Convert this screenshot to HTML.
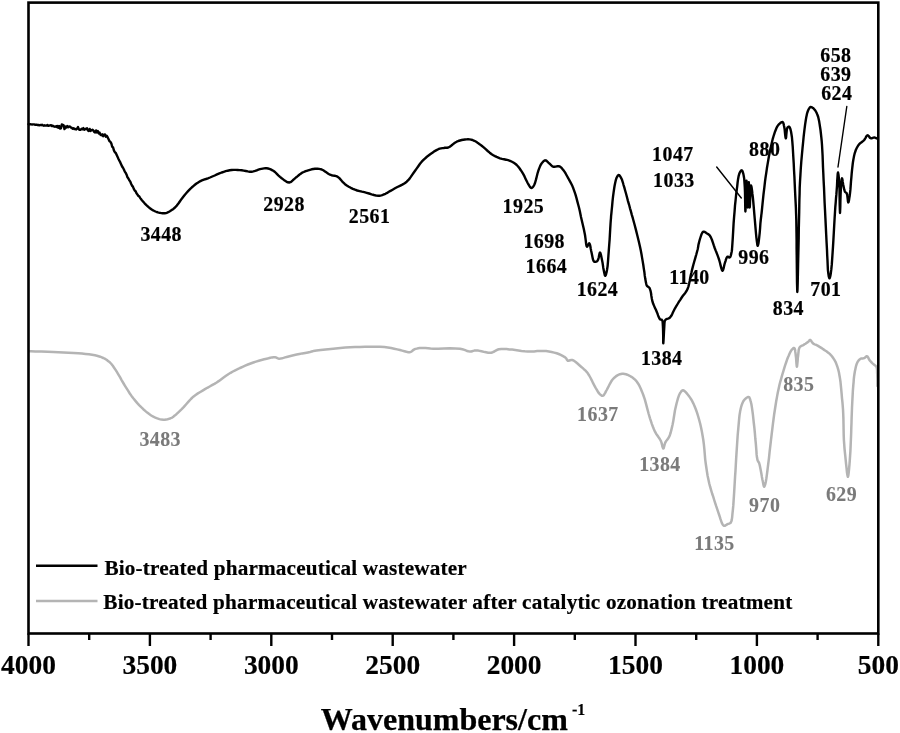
<!DOCTYPE html>
<html><head><meta charset="utf-8"><title>FTIR spectra</title>
<style>
html,body{margin:0;padding:0;background:#fff;}
body{width:900px;height:733px;overflow:hidden;}
svg{display:block;font-family:"Liberation Serif","Times New Roman",serif;font-weight:bold;}
</style></head><body>
<svg width="900" height="733" viewBox="0 0 900 733">
<rect width="900" height="733" fill="#fff"/>
<polyline points="29.2,351.3 30.9,351.3 35.3,351.5 41.3,351.6 47.7,351.8 53.3,352.0 58.4,352.2 63.5,352.4 68.6,352.7 73.6,353.0 78.3,353.3 82.0,353.6 85.5,353.9 88.9,354.3 92.1,354.8 95.0,355.3 96.9,355.7 98.6,356.2 100.2,356.7 101.8,357.3 103.3,358.0 104.7,358.7 106.1,359.5 107.4,360.4 108.7,361.4 110.0,362.5 111.4,364.0 112.8,365.8 114.1,367.7 115.4,369.6 116.7,371.7 118.3,374.3 120.0,377.2 121.6,380.1 123.3,383.0 125.0,385.8 126.6,388.4 128.2,390.9 129.8,393.5 131.5,395.9 133.3,398.3 135.2,400.6 137.1,402.9 139.1,405.1 141.2,407.2 143.3,409.2 145.2,410.9 147.2,412.6 149.2,414.1 151.2,415.5 153.3,416.7 155.3,417.6 157.3,418.4 159.4,419.1 161.4,419.6 163.3,419.8 164.8,419.8 166.2,419.6 167.6,419.3 168.8,418.9 170.0,418.5 170.7,418.2 171.4,417.9 172.0,417.6 172.6,417.2 173.3,416.7 174.7,415.6 176.4,414.2 178.1,412.6 179.9,410.9 181.7,409.2 183.9,406.9 186.2,404.2 188.5,401.6 190.9,399.0 193.3,396.7 195.6,395.0 197.9,393.4 200.3,392.0 202.6,390.6 205.0,389.2 207.3,387.8 209.7,386.5 212.0,385.2 214.4,383.9 216.7,382.5 219.0,380.9 221.3,379.2 223.6,377.5 226.0,375.8 228.3,374.2 230.6,372.8 232.9,371.5 235.2,370.3 237.6,369.2 240.0,368.0 242.6,366.8 245.2,365.6 247.9,364.5 250.6,363.5 253.3,362.5 256.0,361.6 258.8,360.8 261.5,360.0 264.2,359.3 266.7,358.7 268.5,358.3 270.3,357.8 272.0,357.4 273.6,357.2 275.0,357.2 275.9,357.4 276.7,357.8 277.5,358.2 278.3,358.5 279.2,358.7 280.5,358.6 282.0,358.3 283.5,357.9 285.1,357.4 286.7,357.0 288.6,356.5 290.5,356.0 292.5,355.5 294.6,355.0 296.7,354.5 299.4,354.0 302.3,353.4 305.2,352.9 307.9,352.4 310.0,352.0 310.8,351.8 311.3,351.6 311.9,351.5 312.5,351.3 313.3,351.1 316.5,350.6 320.7,350.0 325.6,349.4 330.8,348.9 335.6,348.4 340.4,348.0 345.3,347.6 350.2,347.3 355.1,347.1 360.0,346.9 365.0,346.8 370.0,346.7 375.0,346.7 379.9,346.8 384.4,347.1 387.8,347.5 391.1,348.1 394.2,348.7 397.2,349.4 400.0,350.0 402.2,350.6 404.4,351.2 406.4,351.8 408.3,352.2 410.0,352.2 411.0,351.8 411.9,351.2 412.7,350.5 413.5,349.8 414.4,349.3 415.6,348.9 416.9,348.6 418.2,348.3 419.6,348.1 421.1,348.0 423.2,348.0 425.5,348.1 427.9,348.3 430.5,348.6 433.3,348.7 438.2,348.7 443.9,348.5 449.8,348.3 455.3,348.4 460.0,348.7 462.4,349.2 464.5,349.9 466.4,350.7 468.3,351.3 470.0,351.6 471.2,351.5 472.2,351.2 473.2,350.9 474.3,350.6 475.6,350.4 478.3,350.6 481.5,351.3 484.9,352.1 488.2,352.7 491.1,352.7 492.8,352.2 494.3,351.5 495.7,350.6 497.2,349.8 498.9,349.3 501.3,349.0 503.9,349.0 506.6,349.1 509.4,349.4 512.2,349.6 515.2,349.9 518.4,350.4 521.5,350.9 524.7,351.3 527.8,351.6 530.9,351.6 534.1,351.4 537.2,351.1 540.3,350.9 543.3,350.9 546.1,351.1 548.9,351.5 551.6,352.0 554.2,352.6 556.7,353.3 558.7,354.0 560.7,354.9 562.6,355.9 564.3,356.8 565.6,357.8 566.2,358.4 566.6,359.1 566.9,359.8 567.3,360.3 567.8,360.7 568.5,360.8 569.4,360.5 570.3,360.2 571.2,360.0 572.2,360.0 573.9,360.7 575.7,362.0 577.5,363.5 579.4,365.2 581.1,366.7 582.5,367.9 583.9,369.2 585.3,370.4 586.6,371.8 587.8,373.3 589.2,375.5 590.6,378.0 591.9,380.6 593.1,383.2 594.4,385.6 595.5,387.6 596.7,389.6 597.8,391.5 598.9,393.2 600.0,394.4 600.6,394.9 601.2,395.3 601.8,395.7 602.3,395.8 602.9,395.8 603.7,395.3 604.4,394.2 605.2,392.9 605.9,391.4 606.7,390.0 607.7,388.1 608.8,386.0 609.9,383.8 611.0,381.8 612.2,380.0 613.2,378.8 614.3,377.7 615.5,376.7 616.6,375.8 617.8,375.1 618.9,374.6 619.9,374.2 621.0,374.0 622.2,373.8 623.3,373.8 624.6,374.0 626.0,374.3 627.3,374.7 628.7,375.3 630.0,376.0 631.4,376.8 632.8,377.8 634.2,378.9 635.5,380.1 636.7,381.5 638.2,383.7 639.6,386.2 640.9,389.0 642.1,391.9 643.3,395.0 644.8,399.3 646.1,404.1 647.4,409.1 648.7,414.0 650.0,418.3 651.0,421.3 651.9,424.1 652.9,426.8 653.9,429.3 655.0,431.7 656.1,433.7 657.4,435.5 658.6,437.3 659.8,439.0 660.8,440.8 661.5,442.6 662.0,444.6 662.4,446.5 662.9,447.9 663.3,448.5 663.7,448.1 664.0,446.9 664.4,445.4 664.8,443.9 665.3,442.5 666.0,441.3 666.8,440.3 667.6,439.2 668.5,438.0 669.2,436.7 670.0,434.7 670.7,432.5 671.3,430.1 671.9,427.6 672.5,425.0 673.2,421.6 673.8,417.8 674.4,414.0 675.0,410.2 675.8,406.7 676.5,403.7 677.3,400.7 678.1,397.8 679.0,395.3 680.0,393.3 680.6,392.4 681.1,391.6 681.7,390.9 682.3,390.5 683.0,390.3 683.8,390.5 684.7,391.2 685.7,392.1 686.6,393.1 687.5,394.2 688.7,395.7 689.9,397.4 691.1,399.2 692.2,401.2 693.3,403.3 694.6,406.2 695.9,409.5 697.1,412.9 698.2,416.5 699.2,420.0 700.2,423.8 701.1,427.8 701.9,431.8 702.6,435.8 703.3,440.0 703.9,444.7 704.4,449.6 704.8,454.5 705.2,459.3 705.8,464.0 706.4,468.0 707.0,472.0 707.6,475.8 708.4,479.6 709.2,483.3 710.1,486.7 711.1,490.1 712.1,493.5 713.2,496.7 714.2,500.0 715.2,503.1 716.2,506.2 717.3,509.3 718.3,512.3 719.2,515.0 719.9,517.1 720.5,519.2 721.2,521.2 721.8,522.9 722.5,524.2 722.8,524.7 723.1,525.1 723.5,525.4 723.8,525.7 724.2,525.8 724.8,525.7 725.4,525.5 726.1,525.0 726.8,524.6 727.5,524.2 728.2,523.9 728.9,523.7 729.6,523.4 730.3,523.0 730.8,522.5 731.4,521.2 731.8,519.6 732.1,517.6 732.3,515.5 732.5,513.3 732.9,509.6 733.3,505.4 733.6,500.9 733.9,496.3 734.2,491.7 734.5,486.6 734.8,481.4 735.1,476.1 735.5,470.7 735.8,465.0 736.2,457.9 736.7,450.2 737.2,442.5 737.7,435.0 738.3,428.3 738.7,423.8 739.1,419.4 739.5,415.4 740.1,411.6 740.8,408.3 741.3,406.3 741.9,404.4 742.6,402.8 743.3,401.3 744.2,400.0 745.0,399.1 746.0,398.2 747.0,397.5 747.9,397.0 748.7,397.0 749.3,397.4 749.7,398.2 750.1,399.2 750.4,400.4 750.8,401.7 751.4,404.3 751.9,407.4 752.4,410.9 752.9,414.6 753.3,418.3 753.8,423.0 754.4,428.2 754.9,433.4 755.3,438.5 755.8,443.3 756.1,447.1 756.4,450.9 756.6,454.4 757.0,457.6 757.5,460.0 757.8,460.8 758.1,461.4 758.5,461.9 758.9,462.5 759.2,463.3 759.9,465.9 760.6,469.4 761.3,473.2 761.9,476.9 762.5,480.0 762.9,481.7 763.2,483.5 763.5,485.1 763.9,486.3 764.2,486.7 764.5,486.4 764.8,485.6 765.2,484.4 765.5,483.1 765.8,481.7 766.3,478.8 766.8,475.4 767.3,471.5 767.8,467.4 768.3,463.3 769.0,457.8 769.6,451.9 770.3,445.8 771.0,439.8 771.7,434.0 772.3,429.1 772.9,424.2 773.5,419.5 774.1,414.8 774.8,410.2 775.5,405.7 776.2,401.3 777.0,396.9 777.8,392.6 778.7,388.4 779.5,384.8 780.4,381.3 781.4,377.9 782.3,374.6 783.3,371.3 784.2,368.3 785.1,365.4 786.1,362.5 787.0,359.8 788.0,357.3 788.8,355.5 789.5,353.7 790.3,352.1 791.1,350.7 791.9,349.6 792.4,349.1 792.9,348.6 793.3,348.2 793.8,348.0 794.2,348.0 794.7,348.7 795.1,350.1 795.3,351.9 795.6,353.9 795.8,355.8 796.1,358.2 796.3,361.1 796.5,363.8 796.7,365.9 796.9,366.7 797.1,365.9 797.3,363.8 797.6,361.1 797.8,358.2 798.1,355.8 798.3,353.9 798.5,352.0 798.7,350.1 799.1,348.5 799.7,347.2 800.3,346.5 801.1,346.1 801.9,345.7 802.8,345.3 803.6,344.9 804.5,344.3 805.5,343.7 806.5,343.0 807.4,342.4 808.2,341.8 808.7,341.3 809.1,340.8 809.4,340.4 809.8,340.0 810.2,339.9 810.7,340.2 811.2,340.9 811.7,341.7 812.3,342.6 812.9,343.3 813.7,343.9 814.6,344.3 815.6,344.7 816.6,345.2 817.6,345.7 818.8,346.4 820.0,347.1 821.3,347.9 822.6,348.8 823.8,349.6 825.1,350.5 826.4,351.3 827.6,352.2 828.9,353.2 830.0,354.2 831.1,355.3 832.1,356.5 833.0,357.8 833.9,359.1 834.7,360.4 835.5,361.8 836.1,363.3 836.7,364.9 837.3,366.5 837.8,368.2 838.4,370.2 838.9,372.3 839.3,374.5 839.7,376.8 840.1,379.1 840.5,382.0 840.8,385.1 841.1,388.2 841.4,391.4 841.7,394.7 842.0,398.3 842.4,401.9 842.7,405.5 843.0,409.3 843.2,413.3 843.4,418.4 843.5,423.8 843.6,429.4 843.7,434.8 843.9,440.0 844.2,444.2 844.5,448.3 844.9,452.3 845.3,456.2 845.7,460.1 846.1,464.1 846.6,468.5 847.0,472.6 847.5,475.6 847.9,476.8 848.3,475.6 848.7,472.7 849.1,468.6 849.5,464.1 849.8,460.1 850.1,455.7 850.4,451.1 850.6,446.4 850.8,441.7 851.0,437.0 851.2,432.3 851.3,427.6 851.5,422.9 851.6,418.2 851.8,413.3 852.0,407.7 852.3,401.8 852.6,395.9 852.9,390.3 853.3,385.3 853.6,382.1 853.8,379.2 854.1,376.4 854.5,373.8 854.9,371.3 855.3,369.4 855.7,367.6 856.1,365.8 856.6,364.2 857.2,362.8 857.7,361.8 858.3,360.9 858.9,360.1 859.6,359.4 860.3,358.9 861.0,358.6 861.8,358.5 862.7,358.4 863.5,358.3 864.2,358.1 864.8,357.7 865.4,357.2 866.0,356.7 866.5,356.3 867.0,356.2 867.6,356.6 868.1,357.4 868.6,358.4 869.1,359.5 869.7,360.4 870.4,361.2 871.2,362.0 872.0,362.8 872.8,363.6 873.6,364.3 874.2,364.8 874.8,365.2 875.4,365.6 876.0,366.1 876.4,366.7 876.8,367.8 877.0,369.2 877.1,370.7 877.1,372.3 877.2,374.0 877.3,376.6 877.4,379.7 877.4,382.8 877.4,385.1 877.4,386.0" fill="none" stroke="#b4b4b4" stroke-width="2.5" stroke-linejoin="round" stroke-linecap="round"/>
<polyline points="28.5,124.1 29.4,124.3 30.3,124.3 31.2,124.4 32.1,124.5 33.0,124.4 33.9,124.4 34.8,124.7 35.7,124.6 36.6,124.7 37.5,125.0 38.4,124.9 39.3,125.4 40.2,125.0 41.1,125.2 42.0,124.7 42.9,125.3 43.8,125.7 44.7,125.3 45.6,125.6 46.5,125.6 47.4,124.9 48.3,125.8 49.2,125.6 50.1,125.3 51.0,125.1 51.9,126.1 52.8,125.7 53.7,126.3 54.6,126.7 55.5,126.4 56.4,126.9 57.3,125.9 58.2,127.7 59.1,126.0 60.0,128.6 60.9,128.4 61.8,124.5 62.7,124.8 63.6,125.3 64.5,129.1 65.4,126.6 66.3,127.6 67.2,126.1 68.1,127.2 69.0,126.6 69.9,126.5 70.8,127.6 71.7,127.7 72.6,128.8 73.5,128.2 74.4,129.1 75.3,129.0 76.2,129.5 77.1,128.6 78.0,127.1 78.9,129.4 79.8,129.9 80.7,129.8 81.6,128.8 82.5,129.3 83.4,128.1 84.3,129.8 85.2,129.3 86.1,128.7 87.0,128.3 87.9,130.5 88.8,131.0 89.7,128.9 90.6,130.9 91.5,130.2 92.4,129.7 93.3,130.4 94.2,131.9 95.1,132.4 96.0,130.4 96.9,132.4 97.8,131.1 98.7,133.4 99.6,132.6 100.5,134.7 101.4,135.3 102.3,134.3 103.2,136.2 104.1,134.6 105.0,134.5 105.9,136.7 106.8,135.8 107.7,137.4 108.6,139.3 109.5,141.3 110.4,141.8 111.3,143.3 112.2,146.8 113.1,147.5 114.0,150.6 114.9,152.3 115.8,153.0 116.7,155.0 117.6,156.9 118.5,159.0 119.4,160.7 120.3,162.4 121.2,164.4 122.1,166.5 123.0,167.8 123.9,169.5 124.8,171.6 125.7,172.9 126.6,174.7 127.5,177.3 128.4,178.5 129.3,180.3 130.2,181.4 131.1,183.7 132.0,185.6 132.9,186.6 133.8,188.9 134.7,190.5 135.6,191.2 136.5,193.3 137.4,194.4 138.3,195.9 139.2,196.3 139.2,196.3 139.3,196.6 139.7,197.2 140.3,198.1 141.0,199.1 141.7,200.0 143.0,201.5 144.6,203.3 146.4,205.1 148.3,206.9 150.0,208.3 151.3,209.3 152.7,210.1 154.0,210.8 155.4,211.5 156.7,212.0 157.9,212.4 159.1,212.7 160.2,212.9 161.4,213.1 162.5,213.2 163.4,213.2 164.2,213.2 165.0,213.2 165.8,213.1 166.7,212.8 168.2,212.2 169.9,211.3 171.7,210.1 173.4,208.9 175.0,207.5 176.8,205.6 178.4,203.5 180.0,201.2 181.6,198.9 183.3,196.7 184.9,194.7 186.6,192.8 188.3,190.9 190.0,189.2 191.7,187.5 193.3,186.1 194.9,184.8 196.5,183.5 198.2,182.4 200.0,181.3 201.9,180.4 203.9,179.6 205.9,179.0 207.9,178.3 210.0,177.5 212.3,176.5 214.7,175.5 217.0,174.4 219.4,173.4 221.7,172.5 223.7,171.8 225.7,171.2 227.7,170.7 229.7,170.3 231.7,170.0 233.7,169.9 235.7,169.9 237.7,170.0 239.7,170.1 241.7,170.3 243.7,170.6 245.8,171.0 247.8,171.4 249.8,171.7 251.7,171.7 253.4,171.4 255.1,170.9 256.8,170.3 258.4,169.7 260.0,169.2 261.4,168.9 262.7,168.6 264.1,168.4 265.4,168.2 266.7,168.3 268.0,168.5 269.4,168.9 270.7,169.4 272.0,170.1 273.3,170.8 275.0,172.0 276.6,173.6 278.3,175.3 280.0,176.9 281.7,178.3 283.2,179.4 284.7,180.6 286.3,181.6 287.8,182.3 289.2,182.5 290.4,182.2 291.6,181.4 292.7,180.4 293.8,179.3 295.0,178.3 296.3,177.2 297.7,176.1 299.0,175.0 300.4,173.9 301.7,173.0 302.7,172.4 303.7,172.0 304.6,171.6 305.6,171.2 306.7,170.8 308.2,170.3 309.9,169.8 311.6,169.3 313.4,169.0 315.0,168.8 316.4,168.7 317.7,168.8 319.0,168.9 320.4,169.1 321.7,169.5 323.3,170.3 325.0,171.4 326.7,172.6 328.3,173.8 330.0,174.7 331.5,175.2 333.0,175.5 334.6,175.7 336.1,176.1 337.5,176.7 339.1,177.9 340.5,179.4 341.9,181.1 343.4,182.7 345.0,184.2 346.8,185.5 348.8,186.7 350.8,187.8 352.9,188.8 355.0,189.7 357.2,190.5 359.6,191.1 362.0,191.7 364.3,192.2 366.7,192.8 369.1,193.5 371.6,194.3 374.0,195.0 376.3,195.6 378.3,195.8 379.4,195.8 380.4,195.6 381.3,195.4 382.2,195.1 383.3,194.7 385.4,193.8 387.7,192.6 390.1,191.1 392.6,189.7 395.0,188.3 397.4,187.0 399.9,185.8 402.3,184.6 404.7,183.2 406.7,181.7 408.2,180.2 409.6,178.6 410.8,176.9 412.0,175.1 413.3,173.3 414.9,171.0 416.6,168.6 418.3,166.2 420.0,163.8 421.7,161.7 423.2,160.2 424.6,158.8 426.1,157.5 427.6,156.2 429.2,155.0 430.9,153.7 432.8,152.4 434.7,151.1 436.5,150.1 438.3,149.2 439.7,148.7 441.1,148.4 442.5,148.1 443.8,148.0 445.0,147.8 445.7,147.7 446.3,147.7 447.0,147.8 447.6,147.7 448.3,147.5 449.8,146.7 451.4,145.5 453.1,144.1 454.9,142.7 456.7,141.7 458.3,141.0 460.0,140.5 461.7,140.0 463.3,139.7 465.0,139.5 466.5,139.4 468.0,139.3 469.5,139.4 471.0,139.6 472.5,140.0 474.3,140.8 476.2,141.8 478.0,143.1 479.9,144.4 481.7,145.8 483.7,147.4 485.7,149.2 487.7,151.0 489.7,152.7 491.7,154.2 493.3,155.2 495.0,156.1 496.6,156.9 498.3,157.6 500.0,158.3 502.0,158.9 504.0,159.3 506.1,159.7 508.1,160.2 510.0,160.8 511.5,161.5 512.9,162.2 514.2,163.0 515.5,163.9 516.7,165.0 518.1,166.5 519.5,168.3 520.8,170.2 522.1,172.2 523.3,174.2 524.4,176.2 525.4,178.4 526.4,180.5 527.4,182.5 528.3,184.2 528.9,185.2 529.5,186.2 530.1,187.1 530.7,187.7 531.3,188.0 531.9,187.9 532.5,187.4 533.1,186.7 533.7,185.9 534.2,185.0 535.1,182.8 535.9,179.9 536.7,176.7 537.5,173.5 538.3,170.8 538.9,169.1 539.6,167.4 540.2,165.9 540.9,164.5 541.7,163.3 542.4,162.5 543.1,161.7 543.8,161.0 544.6,160.5 545.3,160.3 546.1,160.5 546.8,161.0 547.6,161.8 548.4,162.6 549.2,163.3 550.0,164.0 550.8,164.8 551.6,165.6 552.4,166.3 553.3,166.7 554.4,166.8 555.6,166.6 556.9,166.3 558.1,166.2 559.2,166.3 560.1,166.7 561.0,167.4 561.8,168.2 562.5,169.1 563.3,170.0 564.3,171.4 565.4,173.0 566.3,174.7 567.3,176.5 568.3,178.3 569.3,180.2 570.4,182.1 571.4,184.0 572.4,186.1 573.3,188.3 574.4,191.4 575.5,194.7 576.5,198.1 577.4,201.6 578.3,205.0 579.1,208.0 579.8,211.0 580.4,214.0 581.0,217.0 581.7,220.0 582.4,223.0 583.1,226.1 583.8,229.1 584.4,232.1 585.0,235.0 585.4,237.8 585.8,240.8 586.1,243.7 586.5,245.8 587.0,246.7 587.4,246.4 587.8,245.5 588.3,244.5 588.8,243.6 589.2,243.3 589.8,244.1 590.3,246.0 590.7,248.5 591.2,251.1 591.7,253.3 592.1,255.2 592.5,257.3 592.9,259.2 593.5,260.8 594.2,261.7 594.8,261.9 595.5,261.8 596.2,261.6 596.9,261.3 597.5,260.8 598.2,259.4 598.8,257.3 599.2,255.0 599.6,253.2 600.0,252.5 600.4,253.0 600.8,254.3 601.2,256.1 601.6,258.1 602.0,260.0 602.5,262.4 602.9,265.2 603.3,267.9 603.8,270.5 604.2,272.5 604.4,273.4 604.6,274.3 604.8,275.1 605.1,275.6 605.3,275.8 605.6,275.4 606.0,274.5 606.3,273.2 606.7,271.6 607.0,270.0 607.6,266.1 608.0,261.3 608.4,255.9 608.8,250.3 609.2,245.0 609.6,239.8 609.9,234.5 610.2,229.2 610.5,224.3 610.8,220.0 611.0,217.8 611.1,215.9 611.3,214.1 611.5,212.2 611.7,210.0 612.1,206.1 612.5,201.5 613.0,196.8 613.6,192.3 614.2,188.3 614.6,185.8 615.1,183.3 615.6,181.1 616.1,179.1 616.7,177.5 617.1,176.8 617.5,176.1 617.9,175.5 618.3,175.1 618.7,175.0 619.2,175.2 619.7,175.7 620.3,176.5 620.8,177.4 621.3,178.3 622.1,180.1 622.8,182.3 623.5,184.8 624.3,187.4 625.0,190.0 626.0,193.5 627.0,197.2 628.0,201.1 629.1,204.8 630.0,208.3 630.7,210.7 631.3,212.9 631.9,215.1 632.6,217.4 633.3,220.0 634.6,224.7 636.0,230.1 637.4,235.8 638.8,241.5 640.0,246.7 640.8,250.6 641.5,254.3 642.1,257.9 642.7,261.4 643.3,265.0 643.8,268.6 644.4,272.3 644.8,275.9 645.3,279.1 645.8,281.7 646.0,282.7 646.2,283.6 646.4,284.4 646.6,285.1 647.0,285.8 647.5,286.3 648.0,286.7 648.6,287.1 649.2,287.6 649.7,288.3 650.4,290.3 651.0,293.0 651.4,296.0 651.9,299.0 652.5,301.7 653.2,303.8 654.1,305.9 655.0,307.9 655.9,309.8 656.7,311.7 657.4,313.4 658.0,315.2 658.6,316.8 659.3,318.2 660.0,319.2 660.4,319.5 660.8,319.6 661.3,319.6 661.7,319.7 662.0,320.0 662.5,321.0 662.7,322.6 662.8,324.4 662.9,326.3 663.0,328.3 663.1,331.5 663.2,335.4 663.2,339.2 663.2,342.1 663.3,343.3 663.4,342.2 663.6,339.2 663.8,335.4 664.0,331.5 664.2,328.3 664.3,326.4 664.4,324.5 664.5,322.8 664.7,321.3 665.3,320.0 666.0,319.3 667.0,318.9 668.0,318.6 669.1,318.2 670.0,317.5 671.1,316.1 672.1,314.3 673.0,312.3 674.0,310.3 675.0,308.3 676.3,306.2 677.6,304.0 679.0,301.7 680.4,299.6 681.7,297.5 682.9,295.8 684.2,294.2 685.4,292.7 686.5,291.0 687.5,289.2 688.4,286.6 689.1,283.8 689.7,280.9 690.2,277.9 690.8,275.0 691.5,272.3 692.1,269.6 692.8,266.9 693.5,264.3 694.2,261.7 694.9,259.3 695.6,256.9 696.3,254.5 696.9,252.2 697.5,250.0 697.9,248.3 698.2,246.6 698.4,245.0 698.8,243.4 699.2,241.7 699.8,239.5 700.6,237.0 701.4,234.6 702.3,232.7 703.3,231.7 703.9,231.7 704.6,231.9 705.3,232.3 706.0,232.8 706.7,233.3 707.4,233.7 708.1,234.1 708.7,234.5 709.4,235.1 710.0,235.8 711.0,237.6 712.0,240.0 712.9,242.6 713.8,245.4 714.7,248.0 715.6,250.4 716.6,252.8 717.5,255.2 718.4,257.6 719.2,260.0 719.9,262.5 720.6,265.4 721.3,268.1 721.9,270.0 722.5,270.8 723.0,270.2 723.5,268.6 724.0,266.5 724.5,264.3 725.0,262.5 725.5,261.1 725.9,259.7 726.4,258.3 726.9,257.3 727.5,256.7 727.9,256.7 728.4,256.9 728.8,257.3 729.3,257.5 729.7,257.5 730.3,256.9 730.7,255.8 731.1,254.4 731.4,252.9 731.7,251.7 731.8,251.0 731.9,250.3 732.0,249.7 732.0,249.0 732.1,248.0 732.4,243.7 732.8,237.6 733.2,230.6 733.6,223.4 734.1,216.8 734.6,211.2 735.0,205.7 735.6,200.2 736.1,195.0 736.7,190.1 737.2,186.3 737.6,182.5 738.1,178.9 738.7,175.8 739.4,173.4 739.8,172.5 740.3,171.6 740.8,170.9 741.3,170.4 741.7,170.3 742.1,170.6 742.5,171.2 742.8,172.1 743.1,173.1 743.4,174.1 743.8,176.2 744.2,178.6 744.4,181.4 744.6,184.4 744.8,187.4 745.0,192.5 745.1,198.8 745.2,205.0 745.3,209.6 745.4,211.5 745.6,208.3 745.8,200.7 746.0,191.5 746.3,183.9 746.5,180.7 746.7,183.5 747.0,190.1 747.3,198.1 747.6,204.7 747.8,207.5 748.0,204.9 748.2,198.6 748.4,191.0 748.6,184.7 748.8,182.1 749.0,184.7 749.1,191.0 749.3,198.6 749.5,204.9 749.7,207.5 749.9,205.2 750.1,199.7 750.4,193.2 750.6,187.7 751.0,185.4 751.3,186.1 751.7,188.1 752.1,190.9 752.4,193.9 752.8,196.8 753.2,200.9 753.6,205.4 754.0,210.1 754.4,214.9 754.8,219.5 755.2,224.1 755.6,228.8 756.0,233.5 756.4,237.6 756.8,240.9 757.0,242.3 757.2,243.6 757.3,244.7 757.5,245.5 757.7,245.8 757.9,245.5 758.1,244.7 758.4,243.6 758.6,242.3 758.8,240.9 759.2,237.4 759.7,232.9 760.1,228.0 760.4,223.3 760.8,219.5 761.0,217.8 761.2,216.5 761.3,215.2 761.5,213.8 761.7,212.0 762.2,207.2 762.8,201.1 763.5,194.4 764.3,187.8 765.0,181.7 765.6,177.1 766.3,172.6 766.9,168.3 767.6,164.1 768.3,160.0 768.9,156.5 769.6,153.0 770.3,149.6 771.0,146.4 771.7,143.3 772.3,140.8 772.9,138.3 773.6,136.0 774.3,133.8 775.0,131.7 775.6,130.2 776.2,128.7 776.8,127.3 777.5,126.1 778.3,125.0 779.1,124.1 780.0,123.3 780.9,122.5 781.8,122.1 782.5,122.0 783.0,122.4 783.4,123.2 783.7,124.3 783.9,125.5 784.2,126.7 784.6,129.0 784.9,132.1 785.2,135.1 785.5,137.4 785.8,138.3 786.1,137.3 786.3,134.9 786.6,132.0 786.9,129.2 787.5,127.5 787.8,127.2 788.2,126.9 788.5,126.7 788.9,126.6 789.2,126.7 789.7,127.3 790.2,128.4 790.6,129.8 791.0,131.5 791.3,133.3 791.9,137.0 792.3,141.4 792.7,146.3 793.0,151.5 793.3,156.7 793.7,163.0 794.0,169.7 794.4,176.5 794.7,183.4 795.0,190.0 795.3,196.1 795.6,202.0 795.9,207.9 796.1,213.9 796.3,220.0 796.4,226.8 796.5,233.8 796.6,240.8 796.6,247.9 796.7,255.0 796.8,263.5 796.9,273.3 797.0,282.5 797.2,289.3 797.3,292.0 797.5,289.4 797.7,282.7 797.9,273.6 798.1,263.8 798.3,255.0 798.5,246.5 798.7,237.7 798.8,228.8 799.0,220.2 799.2,212.0 799.3,205.6 799.4,199.6 799.6,193.7 799.7,187.8 800.0,181.7 800.4,175.1 800.8,168.3 801.3,161.5 801.9,154.8 802.5,148.3 803.1,142.3 803.7,136.1 804.4,130.2 805.1,124.7 805.8,120.0 806.2,117.6 806.7,115.3 807.1,113.3 807.7,111.5 808.3,110.0 808.7,109.2 809.2,108.4 809.7,107.7 810.2,107.2 810.8,107.0 811.4,107.1 812.1,107.4 812.9,107.9 813.6,108.5 814.2,109.2 815.0,110.1 815.7,111.2 816.3,112.3 816.9,113.6 817.5,115.0 818.2,117.0 818.7,119.2 819.2,121.6 819.6,124.1 820.0,126.7 820.5,130.0 820.9,133.5 821.3,137.2 821.7,141.0 822.0,145.0 822.3,150.2 822.6,155.7 822.8,161.4 823.0,167.3 823.3,173.3 823.6,180.3 824.0,187.6 824.3,195.0 824.6,202.5 825.0,210.0 825.4,218.1 825.8,226.4 826.2,234.7 826.6,242.7 827.0,250.0 827.2,255.3 827.5,260.6 827.7,265.5 827.9,269.8 828.3,273.3 828.5,274.7 828.7,276.1 829.0,277.2 829.2,278.0 829.5,278.3 829.8,278.0 830.0,277.2 830.3,276.1 830.6,274.7 830.8,273.3 831.3,269.4 831.8,264.4 832.2,258.6 832.6,252.6 833.0,246.7 833.4,239.9 833.8,232.8 834.2,225.5 834.6,218.5 835.0,212.0 835.3,207.2 835.7,202.7 836.0,198.4 836.4,194.2 836.7,190.0 837.0,185.8 837.2,181.2 837.5,176.9 837.7,173.7 838.0,172.5 838.2,173.2 838.5,175.0 838.8,177.6 839.0,180.4 839.2,183.3 839.5,189.2 839.6,197.0 839.7,204.7 839.9,210.6 840.0,213.0 840.1,211.2 840.3,206.7 840.4,200.9 840.6,194.8 840.8,190.0 841.0,187.0 841.2,183.9 841.5,181.1 841.7,179.1 842.0,178.3 842.2,178.8 842.5,180.0 842.7,181.7 843.0,183.4 843.3,185.0 843.6,186.4 843.9,187.9 844.2,189.4 844.6,190.7 845.0,191.7 845.3,192.1 845.7,192.4 846.0,192.6 846.4,192.9 846.7,193.3 847.2,194.9 847.5,197.3 847.8,199.8 848.0,201.7 848.3,202.5 848.6,201.9 849.0,200.3 849.3,198.1 849.7,195.7 850.0,193.3 850.4,189.7 850.7,185.7 851.0,181.4 851.4,177.2 851.7,173.3 852.0,170.4 852.3,167.7 852.6,165.0 852.9,162.5 853.3,160.0 853.7,157.9 854.1,155.7 854.6,153.7 855.2,151.8 855.8,150.0 856.4,148.7 857.0,147.5 857.7,146.3 858.4,145.2 859.2,144.2 860.1,143.3 861.2,142.5 862.2,141.7 863.3,140.9 864.2,140.0 864.9,139.0 865.6,137.8 866.2,136.6 866.8,135.7 867.5,135.3 868.1,135.5 868.8,136.2 869.4,137.1 870.1,137.9 870.8,138.3 871.5,138.3 872.1,138.1 872.8,137.8 873.5,137.6 874.2,137.5 875.0,137.7 875.8,138.0 876.7,138.3 877.3,138.6 877.5,138.7" fill="none" stroke="#000" stroke-width="2.4" stroke-linejoin="round" stroke-linecap="round"/>
<g stroke="#000" stroke-width="1.4" stroke-linecap="round">
<line x1="716.7" y1="167" x2="741.3" y2="198"/>
<line x1="846.8" y1="106.5" x2="838" y2="167"/>
</g>
<rect x="28.5" y="2.6" width="849.8" height="630.9" fill="none" stroke="#000" stroke-width="2.6"/>
<g stroke="#000" stroke-width="2.4"><line x1="28.5" y1="633.5" x2="28.5" y2="646" /><line x1="149.9" y1="633.5" x2="149.9" y2="646" /><line x1="271.3" y1="633.5" x2="271.3" y2="646" /><line x1="392.7" y1="633.5" x2="392.7" y2="646" /><line x1="514.1" y1="633.5" x2="514.1" y2="646" /><line x1="635.5" y1="633.5" x2="635.5" y2="646" /><line x1="756.9" y1="633.5" x2="756.9" y2="646" /><line x1="878.3" y1="633.5" x2="878.3" y2="646" /><line x1="89.2" y1="633.5" x2="89.2" y2="640" /><line x1="210.6" y1="633.5" x2="210.6" y2="640" /><line x1="332.0" y1="633.5" x2="332.0" y2="640" /><line x1="453.4" y1="633.5" x2="453.4" y2="640" /><line x1="574.8" y1="633.5" x2="574.8" y2="640" /><line x1="696.2" y1="633.5" x2="696.2" y2="640" /><line x1="817.6" y1="633.5" x2="817.6" y2="640" /></g>
<g font-size="27.4px" text-anchor="middle" fill="#000" stroke="#000" stroke-width="0.2"><text x="28.5" y="674.3">4000</text><text x="149.9" y="674.3">3500</text><text x="271.3" y="674.3">3000</text><text x="392.7" y="674.3">2500</text><text x="514.1" y="674.3">2000</text><text x="635.5" y="674.3">1500</text><text x="756.9" y="674.3">1000</text><text x="878.3" y="674.3">500</text></g>
<g font-size="19.9px" letter-spacing="0.45" fill="#000" stroke="#000" stroke-width="0.2"><text x="140.4" y="240.8">3448</text><text x="263.3" y="210.8">2928</text><text x="348.8" y="222.5">2561</text><text x="502.6" y="213.3">1925</text><text x="523.4" y="247.5">1698</text><text x="525.6" y="273">1664</text><text x="576.7" y="296.3">1624</text><text x="640.9" y="365.3">1384</text><text x="669.2" y="284.2">1140</text><text x="652.1" y="161.3">1047</text><text x="653.1" y="187.2">1033</text><text x="738.3" y="264.2">996</text><text x="749.1" y="155.8">880</text><text x="772.8" y="314.7">834</text><text x="810.3" y="295.5">701</text><text x="820.3" y="62.3">658</text><text x="820.3" y="81">639</text><text x="821.2" y="99.8">624</text></g>
<g font-size="19.9px" letter-spacing="0.45" fill="#7a7a7a" stroke="#7a7a7a" stroke-width="0.1"><text x="139.4" y="445.5">3483</text><text x="577.1" y="420.5">1637</text><text x="639.2" y="470.8">1384</text><text x="694.2" y="549.7">1135</text><text x="749.1" y="512">970</text><text x="783.2" y="390.8">835</text><text x="825.9" y="500.8">629</text></g>
<line x1="36" y1="565.7" x2="97.5" y2="565.7" stroke="#000" stroke-width="2.4"/>
<line x1="36" y1="601" x2="97.5" y2="601" stroke="#b4b4b4" stroke-width="2.4"/>
<g font-size="21.2px" fill="#000" stroke="#000" stroke-width="0.2">
<text x="104.4" y="575.2" textLength="362.3" lengthAdjust="spacing">Bio-treated pharmaceutical wastewater</text>
<text x="103.3" y="609.2" textLength="689" lengthAdjust="spacing">Bio-treated pharmaceutical wastewater after catalytic ozonation treatment</text>
</g>
<text x="320.8" y="729.8" font-size="32px" fill="#000" stroke="#000" stroke-width="0.25" textLength="247" lengthAdjust="spacing">Wavenumbers/cm</text>
<text x="572" y="714.7" font-size="16px" fill="#000" stroke="#000" stroke-width="0.15">-1</text>
</svg>
</body></html>
